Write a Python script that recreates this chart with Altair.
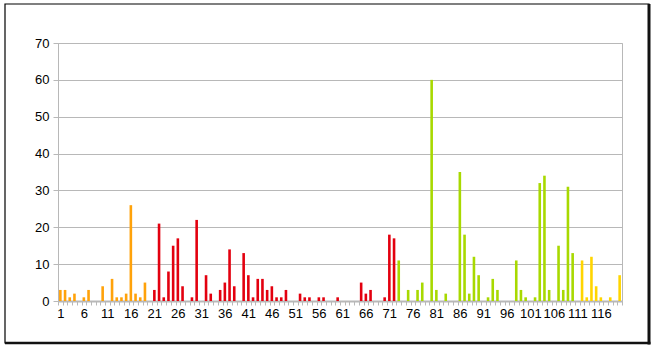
import altair as alt
import pandas as pd

values = [
    3, 3, 1, 2, 0, 1, 3, 0, 0, 4, 0, 6, 1, 1, 2, 26, 2, 1, 5, 0,
    3, 21, 1, 8, 15, 17, 4, 0, 1, 22, 0, 7, 2, 0, 3, 5, 14, 4, 0, 13,
    7, 1, 6, 6, 3, 4, 1, 1, 3, 0, 0, 2, 1, 1, 0, 1, 1, 0, 0, 1,
    0, 0, 0, 0, 5, 2, 3, 0, 0, 1, 18, 17, 11, 0, 3, 0, 3, 5, 0, 60,
    3, 0, 2, 0, 0, 35, 18, 2, 12, 7, 0, 1, 6, 3, 0, 0, 0, 11, 3, 1,
    0, 1, 32, 34, 3, 0, 15, 3, 31, 13, 0, 11, 1, 12, 4, 1, 0, 1, 0, 7,
]
group_names = ["g1", "g2", "g3", "g4"]
group_sizes = [20, 52, 38, 10]
group_colors = ["#FFA20A", "#E3000F", "#A8D900", "#FFD500"]

cats = list(range(1, len(values) + 1))
groups = []
for name, n in zip(group_names, group_sizes):
    groups += [name] * n

df = pd.DataFrame({"cat": cats, "value": values, "group": groups})

FONT = "Liberation Sans"
GRAY = "#b8b8b8"

bars = alt.Chart(df).mark_bar(size=2.6).encode(
    x=alt.X(
        "cat:O",
        scale=alt.Scale(paddingInner=0, paddingOuter=0),
        axis=alt.Axis(
            title=None,
            labelAngle=0,
            labelOverlap=False,
            labelExpr="(datum.value - 1) % 5 == 0 ? datum.label : ''",
            tickBand="extent",
            tickSize=4,
            tickColor=GRAY,
            domainColor=GRAY,
            domainWidth=2,
            labelPadding=2,
            labelFontSize=13,
            labelFont=FONT,
            labelColor="#000000",
        ),
    ),
    y=alt.Y(
        "value:Q",
        scale=alt.Scale(domain=[0, 70], nice=False),
        axis=alt.Axis(
            title=None,
            values=[0, 10, 20, 30, 40, 50, 60, 70],
            tickSize=5,
            tickColor=GRAY,
            domainColor=GRAY,
            gridColor=GRAY,
            labelPadding=4,
            labelFontSize=13,
            labelFont=FONT,
            labelColor="#000000",
        ),
    ),
    color=alt.Color(
        "group:N",
        scale=alt.Scale(domain=group_names, range=group_colors),
        legend=None,
    ),
)

one = alt.Data(values=[{}])
frame = alt.Chart(one).mark_rect(fillOpacity=0, stroke="#000000", strokeWidth=1.2).encode(
    x=alt.value(-53), x2=alt.value(591), y=alt.value(-39), y2=alt.value(300)
)
right_edge = alt.Chart(one).mark_rule(color="#111111", strokeWidth=3).encode(
    x=alt.value(591), y=alt.value(-39), y2=alt.value(301.5)
)
bottom_edge = alt.Chart(one).mark_rule(color="#111111", strokeWidth=2.5).encode(
    x=alt.value(-53), x2=alt.value(592.5), y=alt.value(300)
)

chart = (
    alt.layer(bars, frame, right_edge, bottom_edge)
    .properties(
        width=564,
        height=258,
        autosize=alt.AutoSizeParams(type="none"),
        padding={"left": 58, "top": 43, "right": 31, "bottom": 50},
        background="#ffffff",
    )
    .configure_view(stroke=GRAY, strokeWidth=1)
)

chart.save("out.html", embed_options={"renderer": "svg", "actions": False})
